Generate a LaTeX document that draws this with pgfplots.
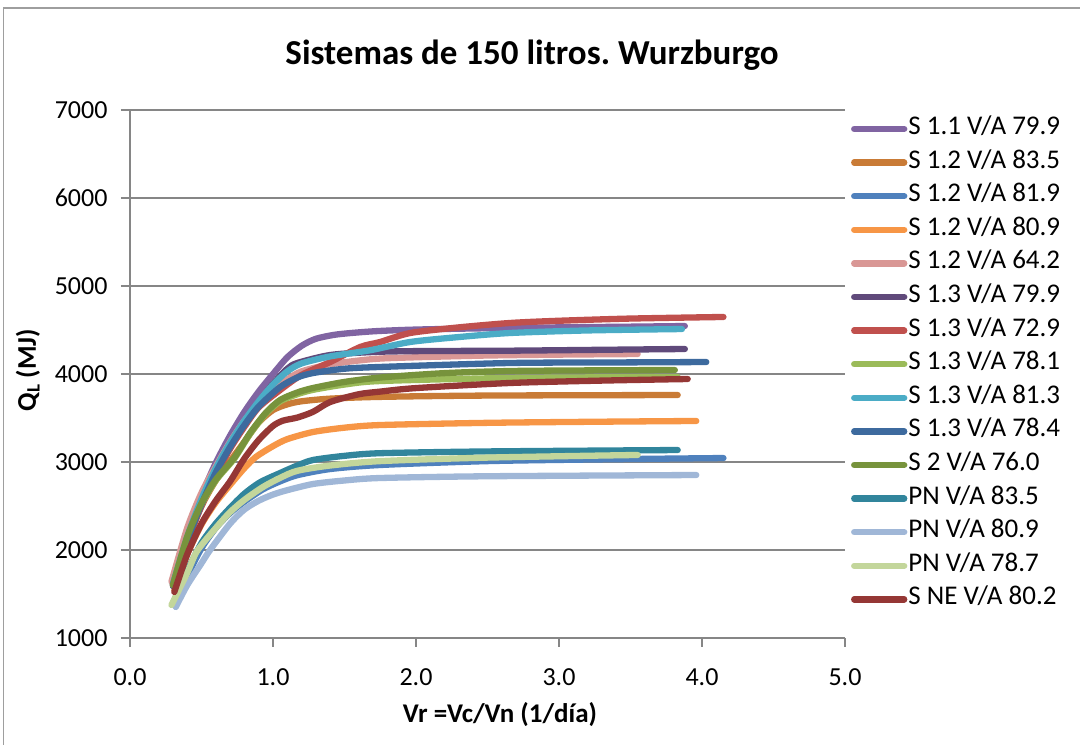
\documentclass[border=0pt]{standalone}
\usepackage{fontspec}
\setmainfont{Carlito}
\usepackage{pgfplots}
\pgfplotsset{compat=1.18}
\frenchspacing
\definecolor{gridc}{HTML}{868686}
\definecolor{c1}{HTML}{8064A2}
\definecolor{c2}{HTML}{C97B36}
\definecolor{c3}{HTML}{4F81BD}
\definecolor{c4}{HTML}{F79646}
\definecolor{c5}{HTML}{D99795}
\definecolor{c6}{HTML}{604A7B}
\definecolor{c7}{HTML}{C0504D}
\definecolor{c8}{HTML}{9BBB59}
\definecolor{c9}{HTML}{4BACC6}
\definecolor{c10}{HTML}{3D6A9E}
\definecolor{c11}{HTML}{77933C}
\definecolor{c12}{HTML}{31859C}
\definecolor{c13}{HTML}{A0B7D7}
\definecolor{c14}{HTML}{C3D69B}
\definecolor{c15}{HTML}{953735}
\begin{document}
\begin{tikzpicture}[x=1pt,y=1pt]
\useasboundingbox (0,0) rectangle (1080,745);
\draw[gridc!80, line width=1.5pt] (3.5,-20) -- (3.5,737) -- (1100,737);
\begin{axis}[
  at={(130pt,107pt)}, anchor=south west,
  scale only axis, width=715pt, height=528pt,
  xmin=0, xmax=5, ymin=1000, ymax=7000,
  xtick={0,1,2,3,4,5}, ytick={1000,2000,3000,4000,5000,6000,7000},
  ymajorgrids, grid style={gridc, line width=1.5pt},
  axis x line*=bottom, axis y line*=left,
  axis line style={gridc, line width=1.5pt, -},
  tick style={gridc, line width=1.5pt},
  tick align=outside, major tick length=9pt,
  /pgf/number format/assume math mode=true,
  /pgf/number format/1000 sep={},
  ticklabel style={font=\fontsize{26}{30}\selectfont, text=black},
  xticklabel style={/pgf/number format/fixed, /pgf/number format/fixed zerofill, /pgf/number format/precision=1, yshift=-18pt},
  yticklabel style={xshift=-10pt},
  legend cell align=left,
  legend style={at={(1.004,0.99)}, anchor=north west, draw=none, fill=none,
    font=\fontsize{27}{31}\selectfont, row sep=10.6pt,
    nodes={inner sep=1pt, text height=16pt, text depth=5pt}},
  legend image code/.code={\draw[#1, line cap=round] (0pt,0pt) -- (50pt,0pt);},
  every axis plot/.append style={line width=6.3pt, line cap=round, line join=round, smooth, tension=0.45},
]
\addplot[c1] coordinates {(0.30,1620) (0.40,2180) (0.50,2620) (0.60,2990) (0.70,3300) (0.80,3570) (0.90,3800) (1.00,4000) (1.10,4190) (1.20,4320) (1.30,4400) (1.45,4450) (1.70,4485) (2.00,4505) (2.50,4520) (3.00,4530) (3.50,4538) (3.88,4545)};
\addlegendentry{S 1.1 V/A 79.9}
\addplot[c2] coordinates {(0.30,1600) (0.40,2120) (0.50,2500) (0.60,2790) (0.70,3010) (0.80,3230) (0.90,3450) (1.00,3590) (1.10,3655) (1.20,3690) (1.40,3720) (1.75,3740) (2.50,3755) (3.83,3761)};
\addlegendentry{S 1.2 V/A 83.5}
\addplot[c3] coordinates {(0.32,1370) (0.40,1700) (0.50,2020) (0.60,2250) (0.70,2420) (0.80,2550) (0.93,2690) (1.05,2780) (1.17,2850) (1.40,2920) (1.75,2966) (2.50,3010) (3.30,3030) (4.15,3045)};
\addlegendentry{S 1.2 V/A 81.9}
\addplot[c4] coordinates {(0.31,1550) (0.40,1950) (0.50,2290) (0.60,2540) (0.70,2740) (0.80,2930) (0.88,3057) (1.00,3180) (1.10,3260) (1.28,3341) (1.50,3390) (1.75,3420) (2.50,3445) (3.30,3458) (3.96,3466)};
\addlegendentry{S 1.2 V/A 80.9}
\addplot[c5] coordinates {(0.29,1640) (0.40,2250) (0.50,2650) (0.60,2950) (0.70,3230) (0.80,3470) (0.90,3660) (1.00,3820) (1.10,3940) (1.20,4030) (1.40,4110) (1.70,4170) (2.00,4190) (2.50,4210) (3.00,4220) (3.55,4227)};
\addlegendentry{S 1.2 V/A 64.2}
\addplot[c6] coordinates {(0.30,1600) (0.40,2130) (0.50,2560) (0.60,2910) (0.70,3200) (0.80,3450) (0.90,3680) (1.00,3890) (1.10,4060) (1.17,4125) (1.40,4216) (1.70,4250) (2.00,4260) (2.66,4265) (3.30,4275) (3.88,4284)};
\addlegendentry{S 1.3 V/A 79.9}
\addplot[c7] coordinates {(0.30,1590) (0.40,2080) (0.50,2500) (0.60,2850) (0.70,3150) (0.80,3400) (0.90,3620) (1.05,3818) (1.20,3990) (1.40,4136) (1.61,4307) (1.75,4364) (1.96,4466) (2.30,4530) (2.66,4580) (3.00,4605) (3.50,4630) (4.15,4648)};
\addlegendentry{S 1.3 V/A 72.9}
\addplot[c8] coordinates {(0.30,1600) (0.40,2140) (0.50,2520) (0.60,2790) (0.73,3040) (0.84,3320) (0.95,3550) (1.05,3690) (1.17,3770) (1.28,3820) (1.50,3880) (1.75,3920) (2.66,3955) (3.83,3966)};
\addlegendentry{S 1.3 V/A 78.1}
\addplot[c9] coordinates {(0.30,1610) (0.40,2150) (0.50,2580) (0.60,2930) (0.70,3220) (0.80,3470) (0.90,3690) (1.00,3880) (1.10,4030) (1.20,4120) (1.40,4200) (1.68,4270) (1.96,4364) (2.30,4420) (2.66,4466) (3.20,4495) (3.86,4511)};
\addlegendentry{S 1.3 V/A 81.3}
\addplot[c10] coordinates {(0.30,1590) (0.40,2100) (0.50,2520) (0.60,2880) (0.70,3170) (0.80,3420) (0.90,3630) (1.05,3852) (1.17,3960) (1.28,4011) (1.50,4060) (1.75,4080) (2.66,4125) (3.50,4132) (4.03,4136)};
\addlegendentry{S 1.3 V/A 78.4}
\addplot[c11] coordinates {(0.30,1600) (0.40,2150) (0.50,2530) (0.60,2800) (0.73,3050) (0.84,3330) (0.95,3560) (1.05,3705) (1.17,3790) (1.28,3841) (1.50,3910) (1.75,3960) (2.20,4010) (2.66,4034) (3.30,4042) (3.81,4045)};
\addlegendentry{S 2 V/A 76.0}
\addplot[c12] coordinates {(0.30,1390) (0.40,1760) (0.50,2080) (0.60,2300) (0.70,2480) (0.80,2640) (0.91,2770) (1.05,2875) (1.17,2960) (1.28,3023) (1.50,3070) (1.75,3100) (2.50,3120) (3.83,3136)};
\addlegendentry{PN V/A 83.5}
\addplot[c13] coordinates {(0.32,1352) (0.40,1600) (0.50,1850) (0.56,2000) (0.70,2300) (0.80,2460) (0.90,2560) (1.00,2630) (1.10,2680) (1.28,2750) (1.50,2790) (1.75,2818) (2.50,2838) (3.96,2852)};
\addlegendentry{PN V/A 80.9}
\addplot[c14] coordinates {(0.29,1375) (0.40,1740) (0.47,1990) (0.60,2250) (0.70,2430) (0.80,2570) (0.93,2716) (1.05,2820) (1.17,2900) (1.40,2960) (1.75,3010) (2.50,3050) (3.55,3080)};
\addlegendentry{PN V/A 78.7}
\addplot[c15] coordinates {(0.31,1523) (0.40,1950) (0.50,2300) (0.60,2560) (0.70,2780) (0.80,3040) (0.90,3250) (1.00,3410) (1.07,3470) (1.17,3505) (1.28,3570) (1.40,3682) (1.60,3770) (1.75,3800) (2.00,3840) (2.66,3898) (3.30,3925) (3.90,3943)};
\addlegendentry{S NE V/A 80.2}
\end{axis}
\node[font=\fontsize{35}{40}\selectfont\bfseries] at (532,690) {Sistemas de 150 litros.\ Wurzburgo};
\node[font=\fontsize{27}{32}\selectfont\bfseries, rotate=90] at (28,375) {Q\textsubscript{L} (MJ)};
\node[font=\fontsize{27}{32}\selectfont\bfseries] at (500,30) {Vr =Vc/Vn (1/día)};
\end{tikzpicture}
\end{document}
